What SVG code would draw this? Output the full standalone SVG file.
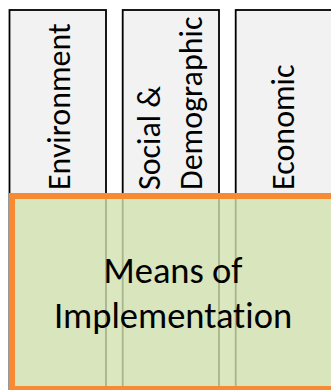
<svg xmlns="http://www.w3.org/2000/svg" width="331" height="390" viewBox="0 0 331 390">
  <style>
    .col { fill: #f2f2f2; stroke: #000000; stroke-width: 1.8; }
    .ctext { font-family: Carlito, Calibri, "Liberation Sans", sans-serif; font-size: 32px; fill: #000000; font-variant-ligatures: none; }
    .mtext { font-family: Carlito, Calibri, "Liberation Sans", sans-serif; font-size: 36.5px; fill: #000000; text-anchor: middle; font-variant-ligatures: none; }
    .main { fill: #d2e1af; fill-opacity: 0.8; stroke: #f68b33; stroke-width: 6; }
  </style>
  <rect width="331" height="390" fill="#ffffff"/>
  <g id="environment">
    <rect class="col" x="9.5" y="10" width="96.5" height="395"/>
    <text class="ctext" transform="translate(70,190) rotate(-90)">Environment</text>
  </g>
  <g id="social-demographic">
    <rect class="col" x="122.7" y="10" width="96.3" height="395"/>
    <text class="ctext" transform="translate(160,190) rotate(-90)">Social &amp;</text>
    <text class="ctext" transform="translate(201.7,190) rotate(-90)">Demographic</text>
  </g>
  <g id="economic">
    <rect class="col" x="235.7" y="10" width="97" height="395"/>
    <text class="ctext" transform="translate(294,190) rotate(-90)">Economic</text>
  </g>
  <g id="means-of-implementation">
    <rect class="main" x="12" y="196" width="325" height="193"/>
    <text class="mtext" x="173" y="283">Means of</text>
    <text class="mtext" x="173" y="328">Implementation</text>
  </g>
  <g id="connectors"/>
</svg>
